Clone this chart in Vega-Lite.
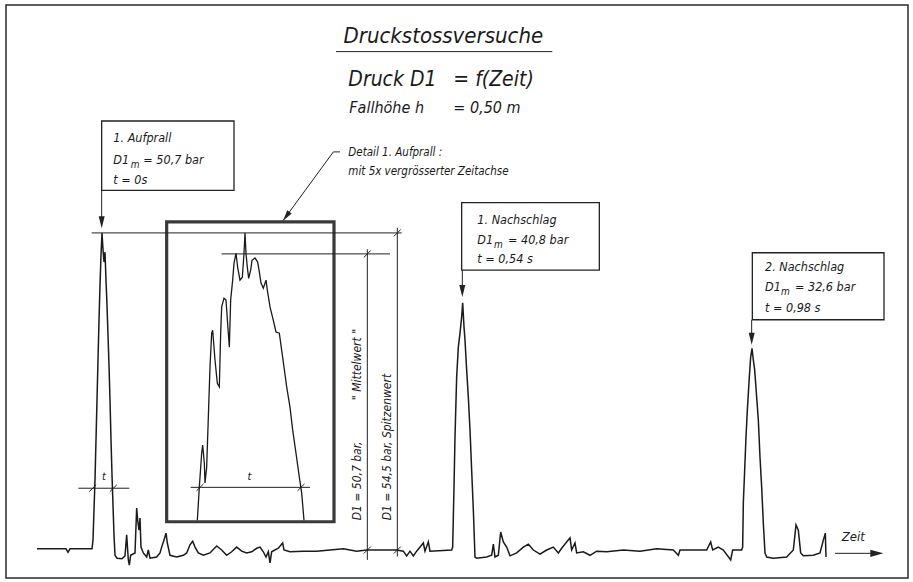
{
  "$schema": "https://vega.github.io/schema/vega-lite/v6.json",
  "width": 913,
  "height": 582,
  "autosize": {"type": "fit", "contains": "padding"},
  "padding": {"left": 6, "top": 5, "right": 5, "bottom": 4},
  "background": "white",
  "config": {"view": {"stroke": "#2a2a2a", "strokeWidth": 1.5}},
  "datasets": {
    "trace": [
      {"t": -97.5, "p": 0.2}, {"t": -63, "p": 0.2}, {"t": -54, "p": 0.2}, {"t": -51, "p": -0.4}, {"t": -48, "p": 0.2}, {"t": -15, "p": 0.2},
      {"t": -13.5, "p": 1.7}, {"t": -12, "p": 6.9}, {"t": -10.5, "p": 12.0}, {"t": -9, "p": 18.9}, {"t": -7.5, "p": 25.7}, {"t": -6, "p": 32.6},
      {"t": -4.5, "p": 39.4}, {"t": -3, "p": 45.4}, {"t": -1.5, "p": 50.6}, {"t": 0, "p": 54.4}, {"t": 1.5, "p": 51.5}, {"t": 3, "p": 49.4},
      {"t": 4.5, "p": 51.1}, {"t": 6, "p": 46.3}, {"t": 7.5, "p": 42.0}, {"t": 9, "p": 36.9}, {"t": 10.5, "p": 31.7}, {"t": 12, "p": 25.7},
      {"t": 13.5, "p": 18.9}, {"t": 15, "p": 12.9}, {"t": 16.5, "p": 7.7}, {"t": 18, "p": 2.6}, {"t": 19.5, "p": -0.9}, {"t": 22.5, "p": -1.4},
      {"t": 30, "p": -1.5}, {"t": 34.5, "p": -1.0}, {"t": 37, "p": 2.6}, {"t": 39.5, "p": -1.7}, {"t": 41, "p": -2.6}, {"t": 43, "p": -0.9},
      {"t": 49.5, "p": -0.5}, {"t": 52, "p": 7.2}, {"t": 53.5, "p": 5.1}, {"t": 55.5, "p": 3.4}, {"t": 57, "p": 5.5}, {"t": 58.5, "p": 0.5},
      {"t": 62, "p": -0.5}, {"t": 67, "p": -1.2}, {"t": 69.5, "p": 0}, {"t": 72, "p": -1.4}, {"t": 82, "p": -1.2}, {"t": 87, "p": -0.5},
      {"t": 89.5, "p": 0.5}, {"t": 93, "p": 1.7}, {"t": 96, "p": 2.9}, {"t": 98, "p": 1.2}, {"t": 102, "p": -0.9}, {"t": 112, "p": -1.2},
      {"t": 122, "p": -0.9}, {"t": 127, "p": -0.5}, {"t": 132, "p": 0.9}, {"t": 136, "p": 1.5}, {"t": 139.5, "p": 0.5}, {"t": 144.5, "p": -0.5},
      {"t": 152, "p": -0.9}, {"t": 162, "p": -0.5}, {"t": 172, "p": 0.7}, {"t": 179.5, "p": 0}, {"t": 187, "p": -0.9}, {"t": 194.5, "p": -0.3},
      {"t": 202, "p": 0.5}, {"t": 209.5, "p": -0.2}, {"t": 217, "p": -0.5}, {"t": 224.5, "p": -0.3}, {"t": 232, "p": 0.3}, {"t": 237, "p": 0.5},
      {"t": 242, "p": -0.3}, {"t": 246, "p": -1.2}, {"t": 249.5, "p": -0.3}, {"t": 252, "p": -2.2}, {"t": 254.5, "p": -0.3}, {"t": 264.5, "p": 0.3},
      {"t": 271, "p": 1.2}, {"t": 273, "p": 0}, {"t": 282, "p": -0.3}, {"t": 302, "p": -0.2}, {"t": 322, "p": -0.2}, {"t": 342, "p": 0},
      {"t": 362, "p": 0.2}, {"t": 382, "p": -0.2}, {"t": 397, "p": 0}, {"t": 442, "p": 0}, {"t": 452, "p": -0.2}, {"t": 457, "p": -1.0},
      {"t": 462, "p": -0.2}, {"t": 467, "p": -1.0}, {"t": 472, "p": -0.2}, {"t": 482, "p": 1.2}, {"t": 484.5, "p": -0.2}, {"t": 489.5, "p": 1.4},
      {"t": 492, "p": -0.2}, {"t": 524.5, "p": 0},
      {"t": 526, "p": 0.5}, {"t": 528, "p": 10.8}, {"t": 529.5, "p": 19.4}, {"t": 532, "p": 29.7}, {"t": 534.5, "p": 34.8}, {"t": 537, "p": 37.2},
      {"t": 539.5, "p": 40.0}, {"t": 541, "p": 42.4}, {"t": 543, "p": 38.3}, {"t": 544.5, "p": 36.0}, {"t": 547, "p": 30.9}, {"t": 549.5, "p": 26.2},
      {"t": 552, "p": 20.6}, {"t": 554.5, "p": 13.7}, {"t": 557, "p": 6.9}, {"t": 559.5, "p": -1.2}, {"t": 562, "p": -1.4}, {"t": 577, "p": -1.2},
      {"t": 584.5, "p": -0.9}, {"t": 587, "p": 1.0}, {"t": 589.5, "p": -1.2}, {"t": 594.5, "p": -0.9}, {"t": 598, "p": 3.1}, {"t": 602, "p": 1.4},
      {"t": 607, "p": 0.5}, {"t": 612, "p": -1.0}, {"t": 622, "p": -0.5}, {"t": 632, "p": 0.5}, {"t": 639.5, "p": 1.0}, {"t": 647, "p": 0},
      {"t": 657, "p": -0.7}, {"t": 667, "p": 0}, {"t": 677, "p": 0.5}, {"t": 684.5, "p": -0.5}, {"t": 689.5, "p": 0.3}, {"t": 702, "p": 2.1},
      {"t": 704.5, "p": 0}, {"t": 709.5, "p": 1.2}, {"t": 712, "p": -0.5}, {"t": 722, "p": -0.3}, {"t": 732, "p": -0.9}, {"t": 742, "p": -0.2},
      {"t": 757, "p": -0.3}, {"t": 782, "p": 0}, {"t": 807, "p": -0.2}, {"t": 832, "p": 0.2}, {"t": 857, "p": 0}, {"t": 864.5, "p": -0.9},
      {"t": 867, "p": 0}, {"t": 907, "p": 0}, {"t": 913, "p": 1.4}, {"t": 916, "p": 0}, {"t": 924.5, "p": 0.5}, {"t": 932, "p": 0},
      {"t": 943, "p": -1.7}, {"t": 946, "p": 0}, {"t": 959.5, "p": 0},
      {"t": 961, "p": 0.5}, {"t": 962, "p": 8.1}, {"t": 964, "p": 13.7}, {"t": 966, "p": 19.4}, {"t": 968, "p": 24.0}, {"t": 971, "p": 29.7},
      {"t": 973, "p": 33.1}, {"t": 975, "p": 34.6}, {"t": 977, "p": 32.6}, {"t": 979, "p": 30.9}, {"t": 982, "p": 26.2}, {"t": 984.5, "p": 22.3},
      {"t": 987, "p": 15.9}, {"t": 989.5, "p": 10.8}, {"t": 992, "p": 4.6}, {"t": 994.5, "p": -0.5}, {"t": 997, "p": -1.2}, {"t": 1007, "p": -1.4},
      {"t": 1027, "p": -1.2}, {"t": 1037, "p": 0}, {"t": 1041, "p": 4.3}, {"t": 1044.5, "p": 3.4}, {"t": 1048, "p": -0.5}, {"t": 1052, "p": -1.0},
      {"t": 1067, "p": -0.9}, {"t": 1077, "p": -0.5}, {"t": 1082, "p": 1.7}, {"t": 1085, "p": 2.9}, {"t": 1086, "p": -1.2}
    ],
    "detail": [
      {"t": -14.3, "p": 5.1}, {"t": -13.7, "p": 10.8}, {"t": -13.0, "p": 16.6}, {"t": -12.7, "p": 18.0}, {"t": -12.2, "p": 14.9}, {"t": -12.0, "p": 11.5},
      {"t": -11.5, "p": 14.2}, {"t": -11.0, "p": 22.8}, {"t": -10.5, "p": 31.4}, {"t": -10.0, "p": 37.2}, {"t": -9.7, "p": 37.7}, {"t": -9.0, "p": 32.6},
      {"t": -8.3, "p": 28.6}, {"t": -7.7, "p": 28.0}, {"t": -7.3, "p": 37.2}, {"t": -7.0, "p": 41.7}, {"t": -6.3, "p": 43.2}, {"t": -5.7, "p": 42.9},
      {"t": -5.0, "p": 37.2}, {"t": -4.7, "p": 34.8}, {"t": -4.3, "p": 42.9}, {"t": -3.7, "p": 46.3}, {"t": -3.3, "p": 49.2}, {"t": -2.7, "p": 50.9},
      {"t": -2.2, "p": 48.5}, {"t": -1.5, "p": 46.3}, {"t": -0.8, "p": 46.8}, {"t": -0.3, "p": 50.9}, {"t": 0, "p": 54.4}, {"t": 0.3, "p": 50.9},
      {"t": 0.7, "p": 48.5}, {"t": 1.1, "p": 46.6}, {"t": 1.7, "p": 48.0}, {"t": 2.1, "p": 49.7}, {"t": 3.0, "p": 50.1}, {"t": 3.8, "p": 49.4},
      {"t": 4.3, "p": 47.7}, {"t": 4.8, "p": 45.8}, {"t": 5.5, "p": 44.9}, {"t": 6.3, "p": 46.3}, {"t": 6.7, "p": 44.6}, {"t": 7.5, "p": 41.7},
      {"t": 8.5, "p": 39.4}, {"t": 9.3, "p": 37.4}, {"t": 10.3, "p": 37.2}, {"t": 11.0, "p": 34.3}, {"t": 11.7, "p": 31.4}, {"t": 12.5, "p": 28.0},
      {"t": 13.5, "p": 24.5}, {"t": 14.3, "p": 20.6}, {"t": 15.3, "p": 16.6}, {"t": 16.3, "p": 12.5}, {"t": 17.0, "p": 9.8}, {"t": 17.7, "p": 5.1}
    ],
    "boxes": [
      {"name": "Aufprall", "t": -0.5, "p": 73.6, "t2": 198, "p2": 61.7},
      {"name": "Nachschlag1", "t": 539.5, "p": 59.6, "t2": 746, "p2": 48.0},
      {"name": "Nachschlag2", "t": 975.5, "p": 51.0, "t2": 1173, "p2": 39.5}
    ],
    "inset": [{"name": "Detail", "t": 97, "p": 56.3, "t2": 348, "p2": 4.85}],
    "rules": [
      {"name": "underline", "t": 351, "p": 85.5, "t2": 675.5, "p2": 85.5},
      {"name": "spitze_h", "t": -15.5, "p": 54.4, "t2": 449.5, "p2": 54.4},
      {"name": "spitze_v", "t": 443, "p": 55.3, "t2": 443, "p2": -1.1},
      {"name": "mittel_h", "t": 179.5, "p": 50.8, "t2": 432, "p2": 50.8},
      {"name": "mittel_v", "t": 398, "p": 51.6, "t2": 398, "p2": -1.7},
      {"name": "t_dim", "t": -35.5, "p": 10.6, "t2": 41, "p2": 10.6},
      {"name": "arrow1", "t": -0.5, "p": 61.7, "t2": -0.5, "p2": 56},
      {"name": "arrow2", "t": 540.5, "p": 48.0, "t2": 540.5, "p2": 44.5},
      {"name": "arrow3", "t": 974.5, "p": 39.5, "t2": 974.5, "p2": 36.3},
      {"name": "leader1", "t": 271.5, "p": 56.5, "t2": 347, "p2": 68.3},
      {"name": "leader2", "t": 347, "p": 68.3, "t2": 357, "p2": 68.3},
      {"name": "zeit", "t": 1099.5, "p": -0.57, "t2": 1166, "p2": -0.57},
      {"name": "tick", "t": 437.75, "p": 53.8, "t2": 448.25, "p2": 55.0},
      {"name": "tick", "t": 392.75, "p": 50.2, "t2": 403.25, "p2": 51.4},
      {"name": "tick", "t": 392.75, "p": -0.6, "t2": 403.25, "p2": 0.6},
      {"name": "tick", "t": 437.75, "p": -0.6, "t2": 448.25, "p2": 0.6},
      {"name": "tick", "t": -19.25, "p": 10.0, "t2": -8.75, "p2": 11.2},
      {"name": "tick", "t": 11.75, "p": 10.0, "t2": 22.25, "p2": 11.2}
    ],
    "detailrules": [
      {"name": "t_dim", "t": -16.3, "p": 10.75, "t2": 19.5, "p2": 10.75},
      {"name": "tick", "t": -14.55, "p": 10.15, "t2": -12.45, "p2": 11.35},
      {"name": "tick", "t": 15.75, "p": 10.15, "t2": 17.85, "p2": 11.35}
    ],
    "arrows_down": [
      {"name": "Aufprall", "t": -0.5, "p": 55.2},
      {"name": "Nachschlag1", "t": 540.5, "p": 43.4},
      {"name": "Nachschlag2", "t": 974.5, "p": 35.2}
    ],
    "labels": [
      {"role": "title", "text": "Druckstossversuche", "t": 512, "p": 88.2},
      {"role": "head", "text": "Druck D1", "t": 369.5, "p": 80.7},
      {"role": "head", "text": "= f(Zeit)", "t": 527, "p": 80.7},
      {"role": "sub", "text": "Fallhöhe h", "t": 371, "p": 75.8},
      {"role": "sub", "text": "= 0,50 m", "t": 527, "p": 75.8},
      {"role": "note", "text": "1. Aufprall", "t": 17, "p": 70.7},
      {"role": "note", "text": "D1", "t": 17, "p": 66.9},
      {"role": "note", "text": "= 50,7 bar", "t": 62, "p": 66.9},
      {"role": "note", "text": "t = 0s", "t": 17, "p": 63.5},
      {"role": "note", "text": "1. Nachschlag", "t": 563, "p": 56.6},
      {"role": "note", "text": "D1", "t": 563, "p": 53.2},
      {"role": "note", "text": "= 40,8 bar", "t": 609, "p": 53.2},
      {"role": "note", "text": "t = 0,54 s", "t": 563, "p": 50.0},
      {"role": "note", "text": "2. Nachschlag", "t": 994.5, "p": 48.6},
      {"role": "note", "text": "D1", "t": 994.5, "p": 45.2},
      {"role": "note", "text": "= 32,6 bar", "t": 1039.5, "p": 45.2},
      {"role": "note", "text": "t = 0,98 s", "t": 994.5, "p": 41.6},
      {"role": "note2", "text": "Detail  1. Aufprall :", "t": 369.5, "p": 68.1},
      {"role": "note2", "text": "mit 5x vergrösserter Zeitachse", "t": 369.5, "p": 64.9},
      {"role": "subm", "text": "m", "t": 43, "p": 66.0},
      {"role": "subm", "text": "m", "t": 588, "p": 52.3},
      {"role": "subm", "text": "m", "t": 1018.5, "p": 44.3},
      {"role": "rot", "text": "D1 = 50,7 bar,", "t": 382, "p": 5.1},
      {"role": "rot", "text": "\" Mittelwert \"", "t": 382, "p": 25.7},
      {"role": "rot", "text": "D1 = 54,5 bar, Spitzenwert", "t": 427, "p": 5.1},
      {"role": "zeit", "text": "Zeit", "t": 1127, "p": 2.3},
      {"role": "tlabel", "text": "t", "t": 3, "p": 12.5}
    ]
  },
  "layer": [
    {
      "encoding": {
        "x": {"field": "t", "type": "quantitative", "scale": {"domain": [-144, 1209], "nice": false, "zero": false}, "axis": null},
        "y": {"field": "p", "type": "quantitative", "scale": {"domain": [-4.8, 93.5], "nice": false, "zero": false}, "axis": null}
      },
      "layer": [
        {
          "data": {"name": "inset"},
          "mark": {"type": "rect", "fill": "white", "stroke": "#3a3a3a", "strokeWidth": 3.2},
          "encoding": {"x2": {"field": "t2"}, "y2": {"field": "p2"}}
        },
        {
          "data": {"name": "boxes"},
          "mark": {"type": "rect", "fill": "white", "stroke": "#222", "strokeWidth": 1.3},
          "encoding": {"x2": {"field": "t2"}, "y2": {"field": "p2"}}
        },
        {
          "data": {"name": "rules"},
          "mark": {"type": "rule", "stroke": "#222", "strokeWidth": 1},
          "encoding": {"x2": {"field": "t2"}, "y2": {"field": "p2"}}
        },
        {
          "data": {"name": "trace"},
          "mark": {"type": "line", "stroke": "#1a1a1a", "strokeWidth": 1.5, "interpolate": "linear"}
        },
        {
          "data": {"name": "arrows_down"},
          "mark": {"type": "point", "shape": "M-0.5,-2L0.5,-2L0,0Z", "filled": true, "size": 144, "fill": "#222", "opacity": 1, "strokeWidth": 0}
        },
        {
          "data": {"values": [{"name": "leader", "t": 271.5, "p": 56.5}]},
          "mark": {"type": "point", "shape": "M-0.5,-2L0.5,-2L0,0Z", "filled": true, "size": 121, "fill": "#222", "opacity": 1, "strokeWidth": 0, "angle": 36}
        },
        {
          "data": {"values": [{"name": "zeit", "t": 1172, "p": -0.57}]},
          "mark": {"type": "point", "shape": "M-0.55,-2L0.55,-2L0,0Z", "filled": true, "size": 169, "fill": "#222", "opacity": 1, "strokeWidth": 0, "angle": -90}
        },
        {
          "data": {"name": "labels"},
          "transform": [{"filter": "datum.role === 'title'"}],
          "mark": {"type": "text", "font": "DejaVu Sans Condensed, sans-serif", "fontStyle": "italic", "fontSize": 22, "align": "center", "baseline": "middle", "fill": "#1a1a1a"},
          "encoding": {"text": {"field": "text"}}
        },
        {
          "data": {"name": "labels"},
          "transform": [{"filter": "datum.role === 'head'"}],
          "mark": {"type": "text", "font": "DejaVu Sans Condensed, sans-serif", "fontStyle": "italic", "fontSize": 21, "align": "left", "baseline": "middle", "fill": "#1a1a1a"},
          "encoding": {"text": {"field": "text"}}
        },
        {
          "data": {"name": "labels"},
          "transform": [{"filter": "datum.role === 'sub'"}],
          "mark": {"type": "text", "font": "DejaVu Sans Condensed, sans-serif", "fontStyle": "italic", "fontSize": 16, "align": "left", "baseline": "middle", "fill": "#1a1a1a"},
          "encoding": {"text": {"field": "text"}}
        },
        {
          "data": {"name": "labels"},
          "transform": [{"filter": "datum.role === 'note'"}],
          "mark": {"type": "text", "font": "DejaVu Sans Condensed, sans-serif", "fontStyle": "italic", "fontSize": 12.5, "align": "left", "baseline": "middle", "fill": "#1a1a1a"},
          "encoding": {"text": {"field": "text"}}
        },
        {
          "data": {"name": "labels"},
          "transform": [{"filter": "datum.role === 'note2'"}],
          "mark": {"type": "text", "font": "DejaVu Sans Condensed, sans-serif", "fontStyle": "italic", "fontSize": 11.5, "align": "left", "baseline": "middle", "fill": "#1a1a1a"},
          "encoding": {"text": {"field": "text"}}
        },
        {
          "data": {"name": "labels"},
          "transform": [{"filter": "datum.role === 'subm'"}],
          "mark": {"type": "text", "font": "DejaVu Sans Condensed, sans-serif", "fontStyle": "italic", "fontSize": 10, "align": "left", "baseline": "middle", "fill": "#1a1a1a"},
          "encoding": {"text": {"field": "text"}}
        },
        {
          "data": {"name": "labels"},
          "transform": [{"filter": "datum.role === 'rot'"}],
          "mark": {"type": "text", "font": "DejaVu Sans Condensed, sans-serif", "fontStyle": "italic", "fontSize": 12, "align": "left", "baseline": "middle", "angle": -90, "fill": "#1a1a1a"},
          "encoding": {"text": {"field": "text"}}
        },
        {
          "data": {"name": "labels"},
          "transform": [{"filter": "datum.role === 'zeit'"}],
          "mark": {"type": "text", "font": "DejaVu Sans Condensed, sans-serif", "fontStyle": "italic", "fontSize": 13, "align": "center", "baseline": "middle", "fill": "#1a1a1a"},
          "encoding": {"text": {"field": "text"}}
        },
        {
          "data": {"name": "labels"},
          "transform": [{"filter": "datum.role === 'tlabel'"}],
          "mark": {"type": "text", "font": "DejaVu Sans Condensed, sans-serif", "fontStyle": "italic", "fontSize": 11, "align": "center", "baseline": "middle", "fill": "#1a1a1a"},
          "encoding": {"text": {"field": "text"}}
        }
      ]
    },
    {
      "encoding": {
        "x": {"field": "t", "type": "quantitative", "scale": {"domain": [-71.7, 198.9], "nice": false, "zero": false}, "axis": null},
        "y": {"field": "p", "type": "quantitative", "scale": {"domain": [-4.8, 93.5], "nice": false, "zero": false}, "axis": null}
      },
      "layer": [
        {
          "data": {"name": "detailrules"},
          "mark": {"type": "rule", "stroke": "#222", "strokeWidth": 1},
          "encoding": {"x2": {"field": "t2"}, "y2": {"field": "p2"}}
        },
        {
          "data": {"name": "detail"},
          "mark": {"type": "line", "stroke": "#1a1a1a", "strokeWidth": 1.3, "interpolate": "linear"}
        },
        {
          "data": {"values": [{"text": "t", "t": 1.3, "p": 12.6}]},
          "mark": {"type": "text", "font": "DejaVu Sans Condensed, sans-serif", "fontStyle": "italic", "fontSize": 11, "align": "center", "baseline": "middle", "fill": "#1a1a1a"},
          "encoding": {"text": {"field": "text"}}
        }
      ]
    }
  ],
  "resolve": {"scale": {"x": "independent"}}
}
